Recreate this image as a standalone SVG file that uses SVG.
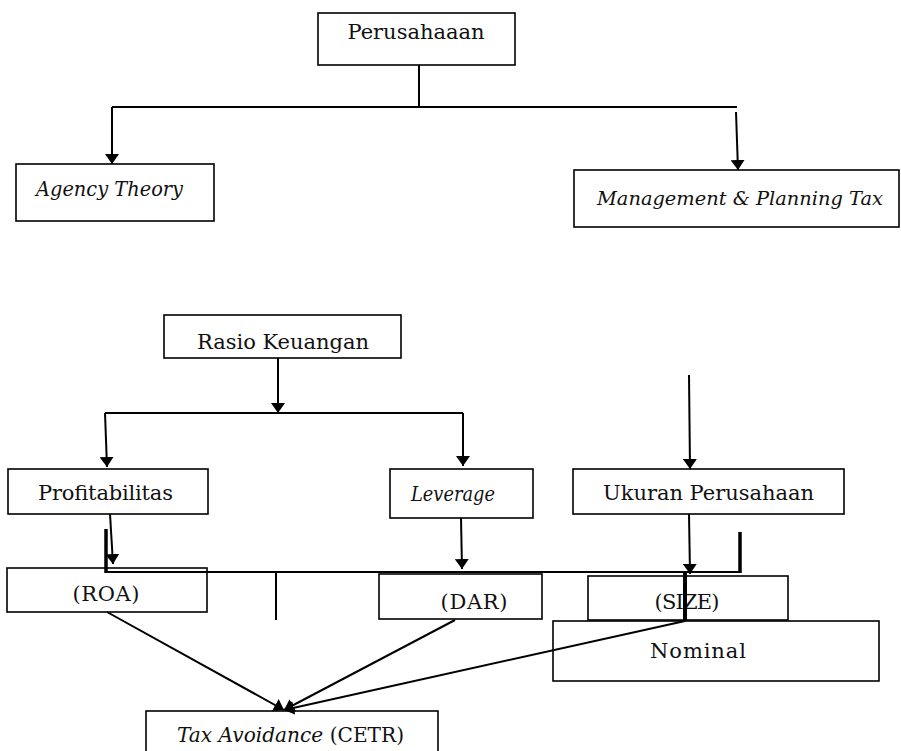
<svg xmlns="http://www.w3.org/2000/svg" width="901" height="751" viewBox="0 0 901 751">
<style>
.box{fill:#fff;stroke:#000;stroke-width:1.6}
.t{font-family:"DejaVu Serif","Liberation Serif",serif;font-size:21px;fill:#111}
.i{font-style:italic}
.c{text-anchor:middle}
.ln{fill:none;stroke:#000;stroke-width:2}
.thk{fill:none;stroke:#000;stroke-width:3.5}
</style>
<defs>
<marker id="ah" markerUnits="userSpaceOnUse" viewBox="0 0 10 14" refX="10" refY="7" markerWidth="10" markerHeight="14" orient="auto">
<path d="M0,0 L10,7 L0,14 z" fill="#000"/>
</marker>
</defs>
<rect width="901" height="751" fill="#fff"/>

<g id="perusahaan"><rect class="box" x="318" y="13" width="197" height="52"/><text class="t c" x="416" y="39" textLength="137">Perusahaaan</text></g>
<g id="agency"><rect class="box" x="16" y="164" width="198" height="57"/><text class="t i" x="36" y="196" textLength="147" lengthAdjust="spacingAndGlyphs">Agency Theory</text></g>
<g id="management"><rect class="box" x="574" y="170" width="325" height="57"/><text class="t i" x="597" y="205" style="font-size:19px" textLength="286" lengthAdjust="spacingAndGlyphs">Management &amp; Planning Tax</text></g>

<g id="rasio"><rect class="box" x="164" y="315" width="237" height="43"/><text class="t c" x="283" y="349" textLength="172">Rasio Keuangan</text></g>
<g id="profitabilitas"><rect class="box" x="8" y="469" width="200" height="45"/><text class="t" x="38" y="500" textLength="135">Profitabilitas</text></g>
<g id="leverage"><rect class="box" x="390" y="469" width="143" height="49"/><text class="t i" x="411" y="501" textLength="84" lengthAdjust="spacingAndGlyphs">Leverage</text></g>
<g id="ukuran"><rect class="box" x="573" y="469" width="271" height="45"/><text class="t" x="603" y="500" textLength="211">Ukuran Perusahaan</text></g>

<g id="roa"><rect class="box" x="7" y="568" width="200" height="44"/><text class="t c" x="106" y="601" textLength="67">(ROA)</text></g>
<g id="dar"><rect class="box" x="379" y="574" width="163" height="45"/><text class="t c" x="474" y="609" textLength="67">(DAR)</text></g>
<g id="size"><rect class="box" x="588" y="576" width="200" height="44"/><text class="t c" x="687" y="609" textLength="65">(SIZE)</text></g>
<g id="nominal"><rect class="box" x="553" y="621" width="326" height="60"/><text class="t c" x="698" y="658" textLength="96">Nominal</text></g>
<g id="tax"><rect class="box" x="146" y="711" width="292" height="50"/><text class="t" x="177" y="742" textLength="227" lengthAdjust="spacingAndGlyphs"><tspan class="i">Tax Avoidance</tspan> (CETR)</text></g>

<g id="connectors">
<path class="ln" d="M419,65 V107 M112,107 H737"/>
<path class="ln" d="M112,107 V164" marker-end="url(#ah)"/>
<path class="ln" d="M736,112 L738,170" marker-end="url(#ah)"/>

<path class="ln" d="M278,358 V413" marker-end="url(#ah)"/>
<path class="ln" d="M105,413 H463"/>
<path class="ln" d="M105,413 L107,467" marker-end="url(#ah)"/>
<path class="ln" d="M463,413 V466" marker-end="url(#ah)"/>
<path class="ln" d="M689,375 L690,469" marker-end="url(#ah)"/>

<path class="ln" d="M110,514 L113,564" marker-end="url(#ah)"/>
<path class="thk" d="M106,529 V573"/>
<path class="ln" d="M106,572 H741"/>
<path class="thk" d="M740,532 V573"/>
<path class="ln" d="M276,572 V620"/>
<path class="ln" d="M461,518 L462,569" marker-end="url(#ah)"/>
<path class="ln" d="M689,514 L690,574" marker-end="url(#ah)"/>
<path class="thk" d="M685,572 V621" style="stroke-width:4"/>

<path class="ln" d="M107,612 L284,710" marker-end="url(#ah)"/>
<path class="ln" d="M455,620 L284,710" marker-end="url(#ah)"/>
<path class="ln" d="M685,621 L284,710" marker-end="url(#ah)"/>
</g>
</svg>
